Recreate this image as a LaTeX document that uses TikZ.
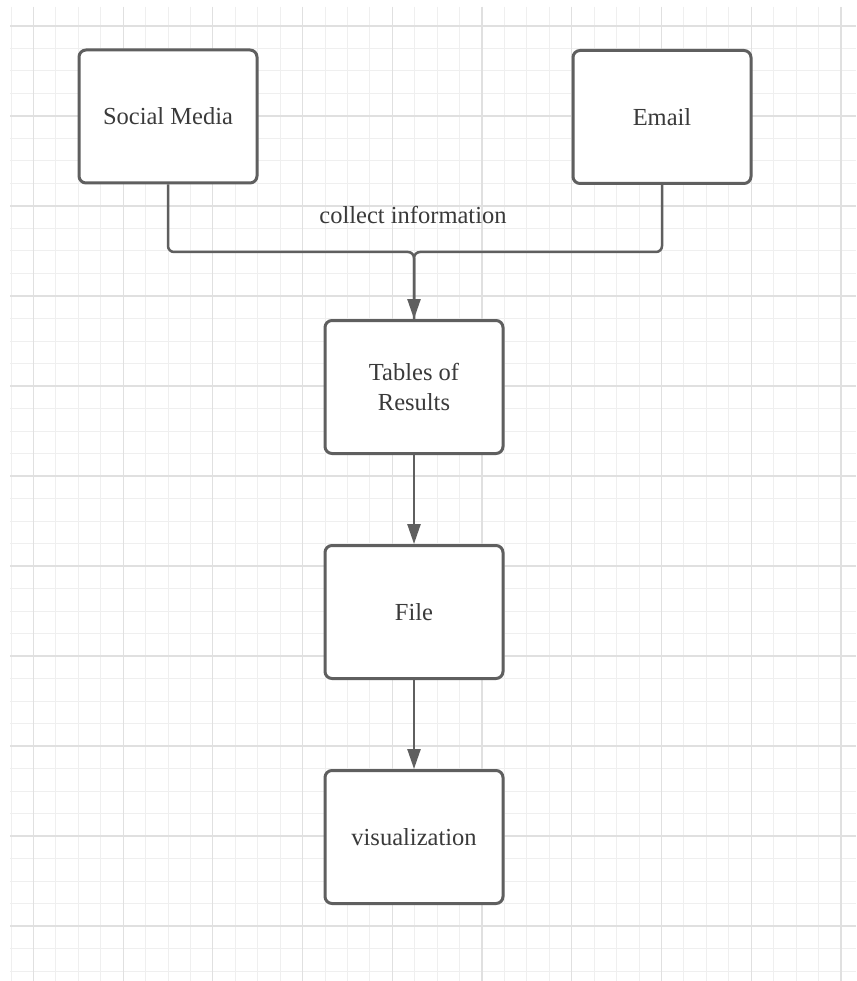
\documentclass[tikz,border=0pt]{standalone}
\usepackage{fontspec}
\setmainfont{Liberation Serif}
\usetikzlibrary{arrows.meta}
\definecolor{edge}{HTML}{5F5F5F}
\definecolor{ink}{HTML}{3A3A3A}
\definecolor{gridminor}{HTML}{EFEFEF}
\definecolor{gridmajor}{HTML}{E0E0E0}
\begin{document}
\begin{tikzpicture}[x=1pt,y=-1pt,
  box/.style={draw=edge, line width=3pt, rounded corners=7pt, fill=white,
    minimum width=178pt, minimum height=133pt, inner sep=0pt,
    font=\fontsize{24.5}{30}\selectfont, text=ink, align=center},
  link/.style={draw=edge, line width=2.5pt, rounded corners=6pt},
  tip/.style={-{Triangle[length=20pt,width=13pt]}},
  label/.style={font=\fontsize{24.5}{30}\selectfont, text=ink}]
\useasboundingbox (0,0) rectangle (856,981);
\fill[white] (0,0) rectangle (856,981);
% background grid
\foreach \k in {0,...,37}
  \draw[gridminor, line width=1pt] (11+22.43*\k,7) -- (11+22.43*\k,981);
\foreach \k in {0,...,42}
  \draw[gridminor, line width=1pt] (10,26+22.5*\k) -- (856,26+22.5*\k);
\foreach \k in {1,5,...,37}
  \draw[gridmajor, line width=1.2pt] (11+22.43*\k,7) -- (11+22.43*\k,981);
\foreach \k in {0,4,...,40}
  \draw[gridmajor, line width=1.2pt] (10,26+22.5*\k) -- (856,26+22.5*\k);
% boxes
\node[box] (sm) at (168,116.5) {Social Media};
\node[box] (em) at (662,117) {Email};
\node[box] (tr) at (414,387) {Tables of\\Results};
\node[box] (fi) at (414,612) {File};
\node[box] (vi) at (414,837) {visualization};
% connectors
\coordinate (j) at (414,252);
\draw[link] (sm.south) |- (j) -- (tr.north);
\draw[link, tip] (em.south) |- (j) -- (tr.north);
\draw[link, tip] (tr.south) -- (fi.north);
\draw[link, tip] (fi.south) -- (vi.north);
\node[label] (lbl) at (413,215) {collect information};
\end{tikzpicture}
\end{document}
